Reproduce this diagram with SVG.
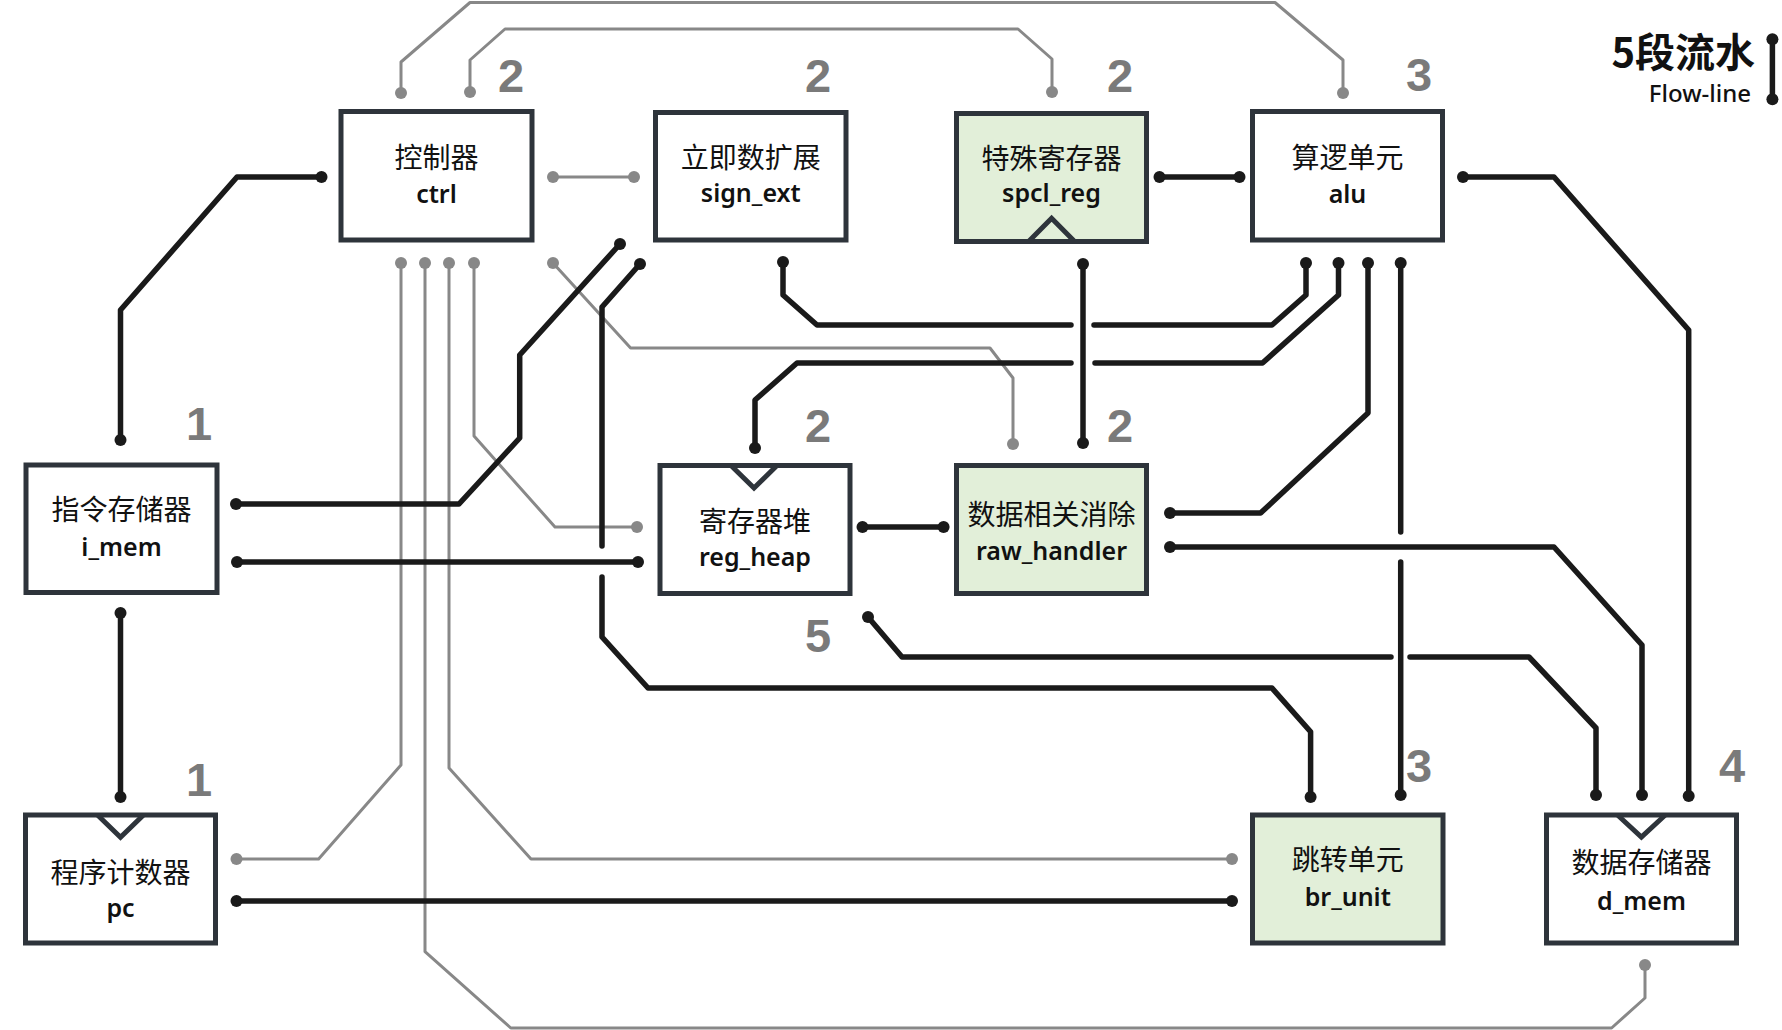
<svg xmlns="http://www.w3.org/2000/svg" width="1782" height="1030" viewBox="0 0 1782 1030">
<style>
.box{fill:#ffffff;stroke:#2e343b;stroke-width:5}
.green{fill:#e2efd9}
.notch{fill:none;stroke:#2e343b;stroke-width:5;stroke-linejoin:miter}
.w{fill:none;stroke:#1a1a1a;stroke-width:5.5;stroke-linecap:round;stroke-linejoin:round}
.g{fill:none;stroke:#888888;stroke-width:3;stroke-linejoin:round}
.bd{fill:#1a1a1a}
.gd{fill:#888888}
.t1{font-family:"Noto Sans CJK SC","Noto Sans",sans-serif;font-size:28px;fill:#111;text-anchor:middle}
.t2{font-family:"Noto Sans","Noto Sans CJK SC",sans-serif;font-size:25px;font-weight:600;fill:#111;text-anchor:middle}
.num{font-family:"Liberation Sans",Arial,sans-serif;font-size:47px;font-weight:bold;fill:#7a7a7a;text-anchor:middle}
</style>
<rect width="1782" height="1030" fill="#ffffff"/>
<g id="connectors">
  <!-- gray control lines -->
  <path class="g" d="M401,93 V62 L470,2.5 H1275 L1343,60 V93"/>
  <path class="g" d="M470,92 V60 L505,29 H1018 L1052,59 V92"/>
  <path class="g" d="M553,177 H634"/>
  <path class="g" d="M401,263 V765 L318.6,859 H236.5"/>
  <path class="g" d="M425,263 V951.7 L510.8,1028 H1611.6 L1645,998 V965"/>
  <path class="g" d="M449,263 V768 L531,859 H1232"/>
  <path class="g" d="M474,263 V436 L555,527 H637"/>
  <path class="g" d="M553,263 L630.6,348 H990 L1013,378 V444"/>
  <!-- black data lines -->
  <path class="w" d="M321.5,177 H237 L120.5,310 V440"/>
  <path class="w" d="M236,504 H459 L519.7,438 V355 L620,244"/>
  <path class="w" d="M237,562 H638"/>
  <path class="w" d="M783,262 V295 L817,325 H1071"/>
  <path class="w" d="M1094,325 H1272 L1306,295 V263"/>
  <path class="w" d="M1338.5,263 V295 L1262.5,363 H1095"/>
  <path class="w" d="M1071,363 H797 L755,400 V448"/>
  <path class="w" d="M1159.5,177 H1239.5"/>
  <path class="w" d="M1083,264 V443"/>
  <path class="w" d="M1368,263 V413 L1260.6,513 H1170"/>
  <path class="w" d="M1400.7,263 V532"/>
  <path class="w" d="M1400.7,562 V795"/>
  <path class="w" d="M1463,177 H1554 L1688.7,330 V796"/>
  <path class="w" d="M1170,547 H1554 L1642,645 V795"/>
  <path class="w" d="M868,617 L902,657 H1391"/>
  <path class="w" d="M1410,657 H1529 L1596,728 V795"/>
  <path class="w" d="M640,264 L602,307 V546"/>
  <path class="w" d="M602,577 V637 L648,688 H1272 L1310.6,731.7 V797"/>
  <path class="w" d="M862.5,527 H943.6"/>
  <path class="w" d="M120.5,613 V797"/>
  <path class="w" d="M236.5,901 H1232"/>
  <!-- gray dots -->
  <g class="gd">
    <circle cx="401" cy="93" r="6"/><circle cx="1343" cy="93" r="6"/>
    <circle cx="470" cy="92" r="6"/><circle cx="1052" cy="92" r="6"/>
    <circle cx="553" cy="177" r="6"/><circle cx="634" cy="177" r="6"/>
    <circle cx="401" cy="263" r="6"/><circle cx="236.5" cy="859" r="6"/>
    <circle cx="425" cy="263" r="6"/><circle cx="1645" cy="965" r="6"/>
    <circle cx="449" cy="263" r="6"/><circle cx="1232" cy="859" r="6"/>
    <circle cx="474" cy="263" r="6"/><circle cx="637" cy="527" r="6"/>
    <circle cx="553" cy="263" r="6"/><circle cx="1013" cy="444" r="6"/>
  </g>
  <!-- black dots -->
  <g class="bd">
    <circle cx="321.5" cy="177" r="6"/><circle cx="120.5" cy="440" r="6"/>
    <circle cx="236" cy="504" r="6"/><circle cx="620" cy="244" r="6"/>
    <circle cx="237" cy="562" r="6"/><circle cx="638" cy="562" r="6"/>
    <circle cx="783" cy="262" r="6"/><circle cx="1306" cy="263" r="6"/>
    <circle cx="1338.5" cy="263" r="6"/><circle cx="755" cy="448" r="6"/>
    <circle cx="1159.5" cy="177" r="6"/><circle cx="1239.5" cy="177" r="6"/>
    <circle cx="1083" cy="264" r="6"/><circle cx="1083" cy="443" r="6"/>
    <circle cx="1368" cy="263" r="6"/><circle cx="1170" cy="513" r="6"/>
    <circle cx="1400.7" cy="263" r="6"/><circle cx="1400.7" cy="795" r="6"/>
    <circle cx="1463" cy="177" r="6"/><circle cx="1688.7" cy="796" r="6"/>
    <circle cx="1170" cy="547" r="6"/><circle cx="1642" cy="795" r="6"/>
    <circle cx="868" cy="617" r="6"/><circle cx="1596" cy="795" r="6"/>
    <circle cx="640" cy="264" r="6"/><circle cx="1310.6" cy="797" r="6"/>
    <circle cx="862.5" cy="527" r="6"/><circle cx="943.6" cy="527" r="6"/>
    <circle cx="120.5" cy="613" r="6"/><circle cx="120.5" cy="797" r="6"/>
    <circle cx="236.5" cy="901" r="6"/><circle cx="1232" cy="901" r="6"/>
  </g>
</g>
<g id="ctrl">
  <rect class="box" x="341" y="111.5" width="191" height="128.5"/>
  <text class="t1" x="436.5" y="168">控制器</text>
  <text class="t2" x="436.5" y="203">ctrl</text>
  <text class="num" x="511" y="92">2</text>
</g>
<g id="sign_ext">
  <rect class="box" x="655.5" y="112.5" width="190.5" height="127.5"/>
  <text class="t1" x="750.75" y="168">立即数扩展</text>
  <text class="t2" x="750.75" y="202">sign_ext</text>
  <text class="num" x="818" y="92">2</text>
</g>
<g id="spcl_reg">
  <rect class="box green" x="956.5" y="113.5" width="190" height="128"/>
  <polyline class="notch" points="1028.6,241.5 1051.6,218.3 1074.6,241.5"/>
  <text class="t1" x="1051.5" y="169">特殊寄存器</text>
  <text class="t2" x="1051.5" y="202">spcl_reg</text>
  <text class="num" x="1120" y="92">2</text>
</g>
<g id="alu">
  <rect class="box" x="1252.5" y="111.5" width="190" height="128.5"/>
  <text class="t1" x="1347.5" y="168">算逻单元</text>
  <text class="t2" x="1347.5" y="203">alu</text>
  <text class="num" x="1419" y="91">3</text>
</g>
<g id="i_mem">
  <rect class="box" x="26" y="465" width="191" height="127.5"/>
  <text class="t1" x="121.5" y="520">指令存储器</text>
  <text class="t2" x="121.5" y="556">i_mem</text>
  <text class="num" x="199" y="440">1</text>
</g>
<g id="reg_heap">
  <rect class="box" x="660" y="465.5" width="190" height="128"/>
  <polyline class="notch" points="731,465.5 754,488 777,465.5"/>
  <text class="t1" x="755" y="532">寄存器堆</text>
  <text class="t2" x="755" y="566">reg_heap</text>
  <text class="num" x="818" y="442">2</text>
  <text class="num" x="818" y="652">5</text>
</g>
<g id="raw_handler">
  <rect class="box green" x="956.5" y="465.5" width="190" height="128"/>
  <text class="t1" x="1051.5" y="525">数据相关消除</text>
  <text class="t2" x="1051.5" y="560">raw_handler</text>
  <text class="num" x="1120" y="442">2</text>
</g>
<g id="pc">
  <rect class="box" x="25.5" y="815" width="190" height="128"/>
  <polyline class="notch" points="97.5,815 120.5,837.3 143.5,815"/>
  <text class="t1" x="120.5" y="883">程序计数器</text>
  <text class="t2" x="120.5" y="917">pc</text>
  <text class="num" x="199" y="796">1</text>
</g>
<g id="br_unit">
  <rect class="box green" x="1252.5" y="815" width="190.5" height="128"/>
  <text class="t1" x="1347.75" y="870">跳转单元</text>
  <text class="t2" x="1347.75" y="906">br_unit</text>
  <text class="num" x="1419" y="782">3</text>
</g>
<g id="d_mem">
  <rect class="box" x="1546.5" y="815" width="190" height="128"/>
  <polyline class="notch" points="1617.5,815 1641.4,837 1665.3,815"/>
  <text class="t1" x="1641.5" y="873">数据存储器</text>
  <text class="t2" x="1641.5" y="910">d_mem</text>
  <text class="num" x="1732" y="782">4</text>
</g>
<g id="legend">
  <text x="1755" y="67" font-family="Noto Sans CJK SC, Noto Sans, sans-serif" font-size="40" font-weight="bold" fill="#111" text-anchor="end">5段流水</text>
  <text x="1751" y="102" font-family="Noto Sans, Noto Sans CJK SC, sans-serif" font-size="24" font-weight="500" fill="#111" text-anchor="end">Flow-line</text>
  <path class="w" d="M1772.4,39.3 V99.3"/>
  <circle class="bd" cx="1772.4" cy="39.3" r="6"/>
  <circle class="bd" cx="1772.4" cy="99.3" r="6"/>
</g>
</svg>
